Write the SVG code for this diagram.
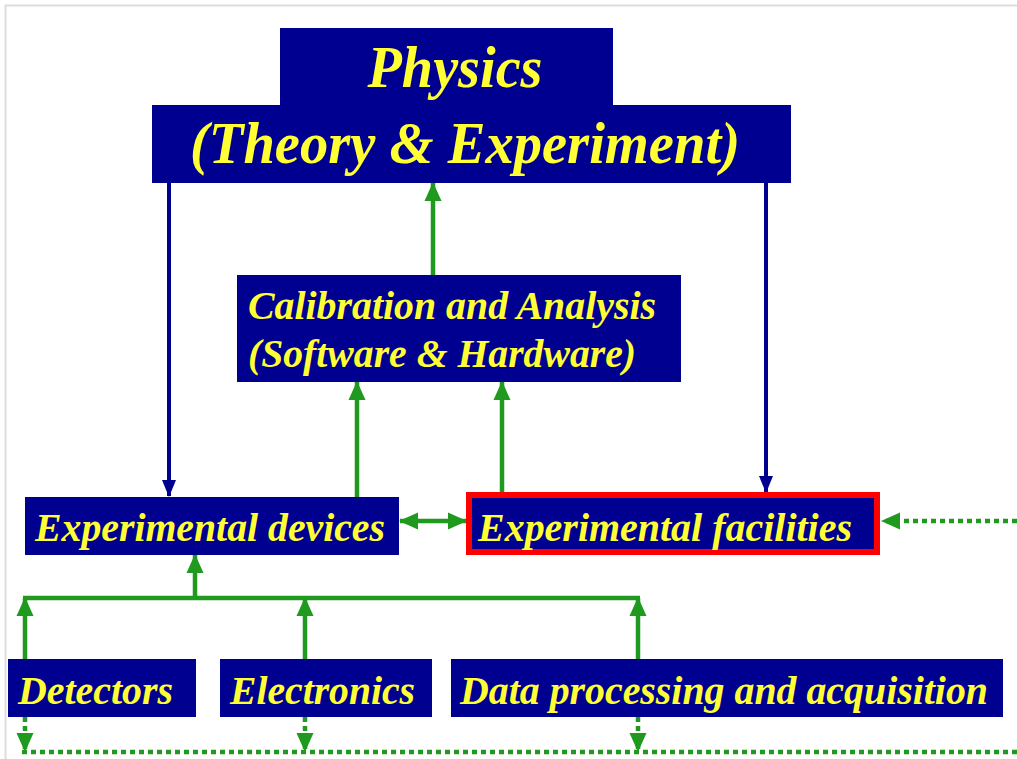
<svg xmlns="http://www.w3.org/2000/svg" width="1017" height="759" viewBox="0 0 1017 759">
<style>
.box{fill:#000090;}
.t{font-family:"Liberation Serif","Times New Roman",serif;font-weight:bold;font-style:italic;fill:#ffff33;}
.g{stroke:#1f9a1f;stroke-width:4.5;fill:none;}
.gd{stroke:#1f9a1f;stroke-width:4.5;fill:none;stroke-dasharray:5 4;}
.b{stroke:#000090;stroke-width:4;fill:none;}
</style>
<defs>
<marker id="ga" markerUnits="userSpaceOnUse" markerWidth="20" markerHeight="20" viewBox="0 0 20 20" refX="18" refY="10" orient="auto-start-reverse">
<path d="M0,1.5 L19,10 L0,18.5 Z" fill="#1f9a1f"/>
</marker>
<marker id="ba" markerUnits="userSpaceOnUse" markerWidth="18" markerHeight="18" viewBox="0 0 18 18" refX="16" refY="9" orient="auto">
<path d="M0,2 L17,9 L0,16 Z" fill="#000090"/>
</marker>
</defs>
<rect x="0" y="0" width="1017" height="759" fill="#ffffff"/>
<path d="M5.5,759 V5.5 H1017" stroke="#dddddd" stroke-width="2" fill="none"/>

<g id="connectors">
<line class="b" x1="169" y1="183" x2="169" y2="496" marker-end="url(#ba)"/>
<line class="b" x1="766" y1="183" x2="766" y2="492" marker-end="url(#ba)"/>
<line class="g" x1="433" y1="275" x2="433" y2="183" marker-end="url(#ga)"/>
<line class="g" x1="357" y1="497" x2="357" y2="382" marker-end="url(#ga)"/>
<line class="g" x1="502" y1="492" x2="502" y2="382" marker-end="url(#ga)"/>
<line class="g" x1="400" y1="521" x2="466" y2="521" marker-start="url(#ga)" marker-end="url(#ga)"/>
<line class="gd" x1="1017" y1="521" x2="882" y2="521" marker-end="url(#ga)"/>
<line class="g" x1="195" y1="598" x2="195" y2="555" marker-end="url(#ga)"/>
<line class="g" x1="23" y1="598" x2="640" y2="598"/>
<line class="g" x1="25" y1="659" x2="25" y2="598" marker-end="url(#ga)"/>
<line class="g" x1="305" y1="659" x2="305" y2="598" marker-end="url(#ga)"/>
<line class="g" x1="638" y1="659" x2="638" y2="598" marker-end="url(#ga)"/>
<line class="gd" x1="25" y1="717" x2="25" y2="751" marker-end="url(#ga)"/>
<line class="gd" x1="305" y1="717" x2="305" y2="751" marker-end="url(#ga)"/>
<line class="gd" x1="638" y1="717" x2="638" y2="751" marker-end="url(#ga)"/>
<line class="gd" x1="22" y1="752" x2="1017" y2="752"/>
</g>

<g id="physics">
<rect class="box" x="280" y="28" width="333" height="78"/>
<rect class="box" x="152" y="105" width="639" height="78"/>
<text class="t" x="455" y="87" font-size="60" text-anchor="middle" textLength="175" lengthAdjust="spacingAndGlyphs">Physics</text>
<text class="t" x="465" y="163" font-size="60" text-anchor="middle" textLength="550" lengthAdjust="spacingAndGlyphs">(Theory &amp; Experiment)</text>
</g>

<g id="calibration">
<rect class="box" x="237" y="275" width="444" height="107"/>
<text class="t" x="248" y="319" font-size="39" textLength="408" lengthAdjust="spacingAndGlyphs">Calibration and Analysis</text>
<text class="t" x="248" y="367" font-size="39" textLength="388" lengthAdjust="spacingAndGlyphs">(Software &amp; Hardware)</text>
</g>

<g id="devices">
<rect class="box" x="25" y="497" width="374" height="58"/>
<text class="t" x="35" y="541" font-size="39" textLength="350" lengthAdjust="spacingAndGlyphs">Experimental devices</text>
</g>

<g id="facilities">
<rect class="box" x="466" y="492" width="414" height="63"/>
<rect x="469" y="495" width="408" height="57" fill="none" stroke="#ff0000" stroke-width="6"/>
<text class="t" x="478" y="541" font-size="39" textLength="374" lengthAdjust="spacingAndGlyphs">Experimental facilities</text>
</g>

<g id="detectors">
<rect class="box" x="8" y="659" width="188" height="58"/>
<text class="t" x="18" y="704" font-size="39" textLength="155" lengthAdjust="spacingAndGlyphs">Detectors</text>
</g>

<g id="electronics">
<rect class="box" x="220" y="659" width="212" height="58"/>
<text class="t" x="230" y="704" font-size="39" textLength="185" lengthAdjust="spacingAndGlyphs">Electronics</text>
</g>

<g id="data">
<rect class="box" x="451" y="659" width="552" height="58"/>
<text class="t" x="460" y="704" font-size="39" textLength="528" lengthAdjust="spacingAndGlyphs">Data processing and acquisition</text>
</g>
</svg>
